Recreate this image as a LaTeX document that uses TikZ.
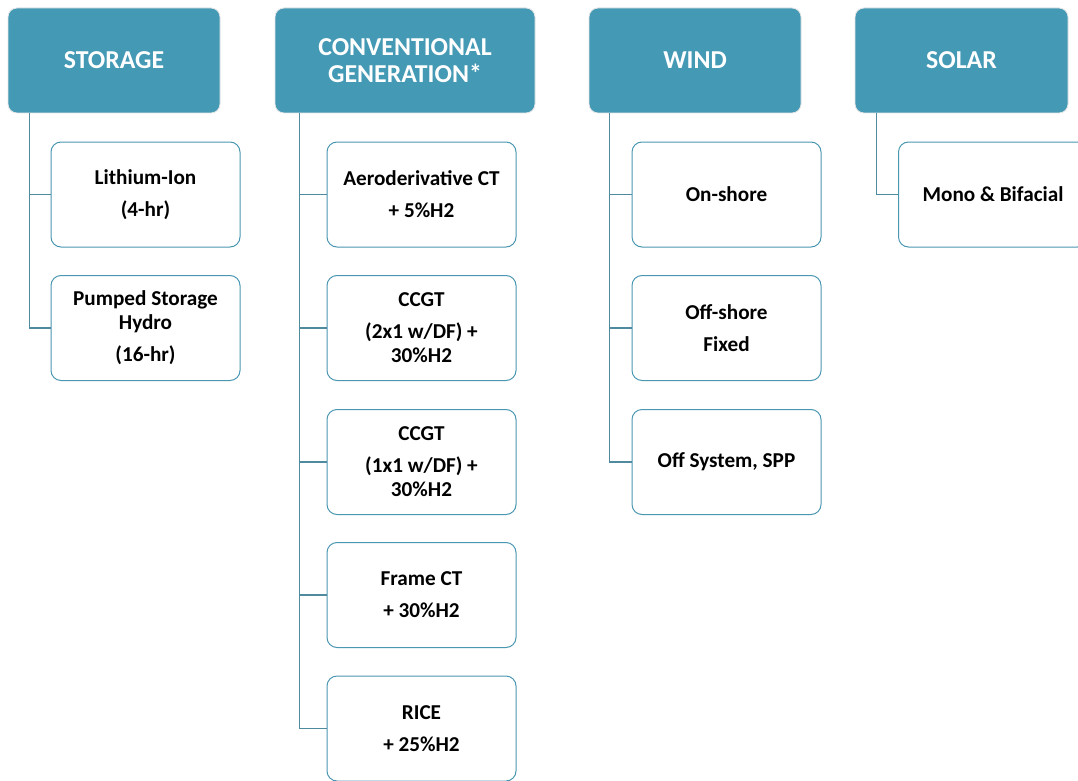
\documentclass[tikz,border=0pt]{standalone}
\usepackage{fontspec}
\setmainfont{Carlito}
\usetikzlibrary{calc}
\definecolor{hdrteal}{HTML}{4499B5}
\definecolor{boxedge}{HTML}{4A97B2}
\definecolor{linkline}{HTML}{4F8A9E}
\tikzset{
  hdr/.style={rectangle, rounded corners=9pt, fill=hdrteal, draw=black!10, line width=0.8pt,
    minimum height=105pt, text=white, font=\fontsize{25.8}{27}\selectfont\bfseries,
    align=center, inner sep=2pt},
  item/.style={rectangle, rounded corners=10pt, fill=white, draw=boxedge, line width=1pt,
    minimum width=189pt, minimum height=105pt, text=black,
    font=\fontsize{21.2}{24}\selectfont\bfseries, align=center, inner sep=2pt},
  link/.style={draw=linkline, line width=1.2pt}
}
\begin{document}
\begin{tikzpicture}[x=1pt,y=-1pt]
\useasboundingbox (0,0) rectangle (1078,781);
\clip (0,0) rectangle (1078,781);

% column headers
\node[hdr, minimum width=212pt] (storage) at (114,60.5) {STORAGE};
\node[hdr, minimum width=260pt] (conv) at (405,60.5) {CONVENTIONAL\\GENERATION*};
\node[hdr, minimum width=212pt] (wind) at (695,60.5) {WIND};
\node[hdr, minimum width=213pt] (solar) at (961.5,60.5) {SOLAR};

% storage options
\node[item] (liion) at (145.5,194.5) {Lithium-Ion\\[8pt](4-hr)};
\node[item] (psh) at (145.5,328) {Pumped Storage\\Hydro\\[8pt](16-hr)};

% conventional generation options
\node[item] (aero) at (421.5,194.5) {Aeroderivative CT\\[8pt]+ 5\%H2};
\node[item] (ccgtA) at (421.5,328) {CCGT\\[8pt](2x1 w/DF) +\\30\%H2};
\node[item] (ccgtB) at (421.5,462) {CCGT\\[8pt](1x1 w/DF) +\\30\%H2};
\node[item] (frame) at (421.5,595) {Frame CT\\[8pt]+ 30\%H2};
\node[item] (rice) at (421.5,728.5) {RICE\\[8pt]+ 25\%H2};

% wind options
\node[item] (onshore) at (726.5,194.5) {On-shore};
\node[item] (offshore) at (726.5,328) {Off-shore\\[8pt]Fixed};
\node[item] (offsys) at (726.5,462) {Off System, SPP};

% solar option
\node[item] (mono) at (993,194.5) {Mono \& Bifacial};

% trunk points under each header
\coordinate (tS) at ($(storage.south west)+(22,0)$);
\coordinate (tC) at ($(conv.south west)+(25,0)$);
\coordinate (tW) at ($(wind.south west)+(21,0)$);
\coordinate (tP) at ($(solar.south west)+(22,0)$);

% connectors
\draw[link] (tS) |- (liion.west);
\draw[link] (tS) |- (psh.west);
\draw[link] (tC) |- (aero.west);
\draw[link] (tC) |- (ccgtA.west);
\draw[link] (tC) |- (ccgtB.west);
\draw[link] (tC) |- (frame.west);
\draw[link] (tC) |- (rice.west);
\draw[link] (tW) |- (onshore.west);
\draw[link] (tW) |- (offshore.west);
\draw[link] (tW) |- (offsys.west);
\draw[link] (tP) |- (mono.west);
\end{tikzpicture}
\end{document}
